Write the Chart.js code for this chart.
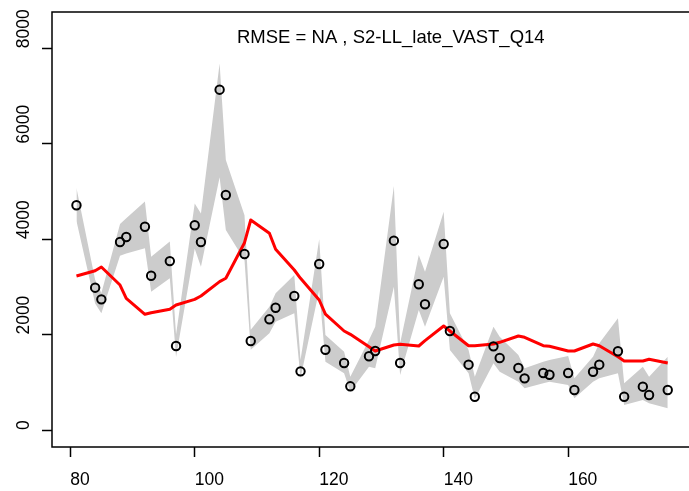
<!DOCTYPE html>
<html>
<head>
<meta charset="utf-8">
<script src="https://cdn.jsdelivr.net/npm/chart.js@4.4.1/dist/chart.umd.min.js"></script>
<style>
  html, body { margin: 0; padding: 0; background: #fff; overflow: hidden; }
</style>
</head>
<body>
<canvas id="fit" width="689" height="491"></canvas>
<script>
// time steps (two per block of four) and the index values at each step
const steps = [81, 84, 85, 88, 89, 92, 93, 96, 97, 100, 101, 104, 105, 108, 109, 112, 113, 116, 117, 120, 121, 124, 125, 128, 129,
    132, 133, 136, 137, 140, 141, 144, 145, 148, 149, 152, 153, 156, 157, 160, 161, 164, 165, 168, 169, 172, 173, 176];
const observed = [4710, 2983, 2739, 3941, 4045, 4261, 3234, 3540, 1761, 4291, 3941, 7133, 4926, 3689, 1865, 2320, 2563, 2809, 1230, 3479, 1683, 1404, 916, 1545, 1656,
    3968, 1404, 3054, 2635, 3899, 2075, 1369, 698, 1754, 1509, 1300, 1083, 1195, 1159, 1195, 838, 1222, 1369, 1650, 698, 908, 734, 838];
const estimate = [3228, 3339, 3416, 3039, 2760, 2425, 2458, 2530, 2620, 2739, 2809, 3109, 3180, 3926, 4402, 4123, 3787, 3354, 3180, 2725, 2431, 2075, 2006, 1746, 1656,
    1782, 1796, 1761, 1872, 2180, 2075, 1767, 1767, 1803, 1838, 1970, 1943, 1767, 1754, 1656, 1656, 1803, 1767, 1536, 1446, 1446, 1482, 1404];
const lower = [4380, 2650, 2446, 3650, 3700, 3810, 2900, 3180, 1530, 3800, 3420, 5300, 4190, 3560, 1680, 2026, 2270, 2446, 1083, 2934, 1432, 1188, 803, 1327, 1293,
    3000, 1153, 2515, 2165, 3213, 1677, 1188, 650, 1398, 1223, 1013, 874, 979, 1013, 943, 664, 1013, 1083, 1188, 524, 629, 560, 455];
const upper = [5070, 3150, 2870, 4320, 4440, 4790, 3630, 3950, 2000, 4750, 4540, 7680, 5660, 4500, 2100, 2585, 2865, 3249, 1467, 3997, 1991, 1641, 1117, 1886, 2165,
    5114, 1817, 3668, 3318, 4576, 2446, 1677, 1117, 2165, 1956, 1572, 1293, 1432, 1467, 1551, 1083, 1537, 1817, 2341, 979, 1327, 1117, 1537];

const xTicks = [80, 100, 120, 140, 160];
const yTicks = [0, 2000, 4000, 6000, 8000];
const fitLabel = 'RMSE = NA , S2-LL_late_VAST_Q14';

const FONT = '"Liberation Sans", Arial, Helvetica, sans-serif';

function xy(values) {
    return steps.map((s, i) => ({ x: s, y: values[i] }));
}

// plot box, rotated y labels and the fit label
const frame = {
    id: 'frame',
    afterDraw(chart) {
        const { ctx, chartArea: a, scales: { y } } = chart;
        ctx.save();
        ctx.strokeStyle = '#000';
        ctx.lineWidth = 1.5;
        ctx.strokeRect(a.left, a.top, a.right - a.left + 20, a.bottom - a.top);

        ctx.fillStyle = '#000';
        ctx.font = '17.5px ' + FONT;
        ctx.textAlign = 'left';
        ctx.textBaseline = 'middle';
        yTicks.forEach(v => {
            ctx.save();
            ctx.translate(24, y.getPixelForValue(v));
            ctx.rotate(-Math.PI / 2);
            ctx.fillText(String(v), 0, 0);
            ctx.restore();
        });

        ctx.font = '18.5px ' + FONT;
        ctx.fillText(fitLabel, 237, 38);
        ctx.restore();
    }
};

new Chart(document.getElementById('fit').getContext('2d'), {
    type: 'line',
    data: {
        datasets: [{
            data: xy(observed),
            showLine: false,
            pointStyle: 'circle',
            pointRadius: 4.2,
            pointBorderWidth: 2,
            pointBorderColor: '#000',
            pointBackgroundColor: 'rgba(0,0,0,0)',
            order: 0
        }, {
            data: xy(estimate),
            borderColor: '#ff0000',
            borderWidth: 3,
            borderJoinStyle: 'round',
            pointRadius: 0,
            tension: 0,
            fill: false,
            order: 1
        }, {
            data: xy(upper),
            borderColor: 'rgba(0,0,0,0)',
            borderWidth: 0,
            backgroundColor: '#cccccc',
            pointRadius: 0,
            tension: 0,
            fill: '+1',
            order: 2
        }, {
            data: xy(lower),
            borderColor: 'rgba(0,0,0,0)',
            borderWidth: 0,
            pointRadius: 0,
            tension: 0,
            fill: false,
            order: 3
        }]
    },
    options: {
        responsive: false,
        animation: false,
        events: [],
        layout: {
            padding: { top: 12, right: 0, left: 0, bottom: 0 }
        },
        scales: {
            x: {
                type: 'linear',
                min: 77.07,
                max: 178.42,
                afterBuildTicks: scale => { scale.ticks = xTicks.map(v => ({ value: v })); },
                afterFit: scale => { scale.height = 44; },
                grid: {
                    drawOnChartArea: false,
                    drawTicks: true,
                    tickLength: 10,
                    tickWidth: 1.5,
                    tickColor: '#000'
                },
                border: { display: false },
                ticks: {
                    align: 'start',
                    padding: 13,
                    color: '#000',
                    maxRotation: 0,
                    font: { family: FONT, size: 17.5 }
                }
            },
            y: {
                type: 'linear',
                min: -356,
                max: 8761,
                afterBuildTicks: scale => { scale.ticks = yTicks.map(v => ({ value: v })); },
                afterFit: scale => { scale.width = 52; },
                grid: {
                    drawOnChartArea: false,
                    drawTicks: true,
                    tickLength: 10,
                    tickWidth: 1.5,
                    tickColor: '#000'
                },
                border: { display: false },
                ticks: { display: false }
            }
        },
        plugins: {
            legend: { display: false },
            tooltip: { enabled: false }
        }
    },
    plugins: [frame]
});
</script>
</body>
</html>
